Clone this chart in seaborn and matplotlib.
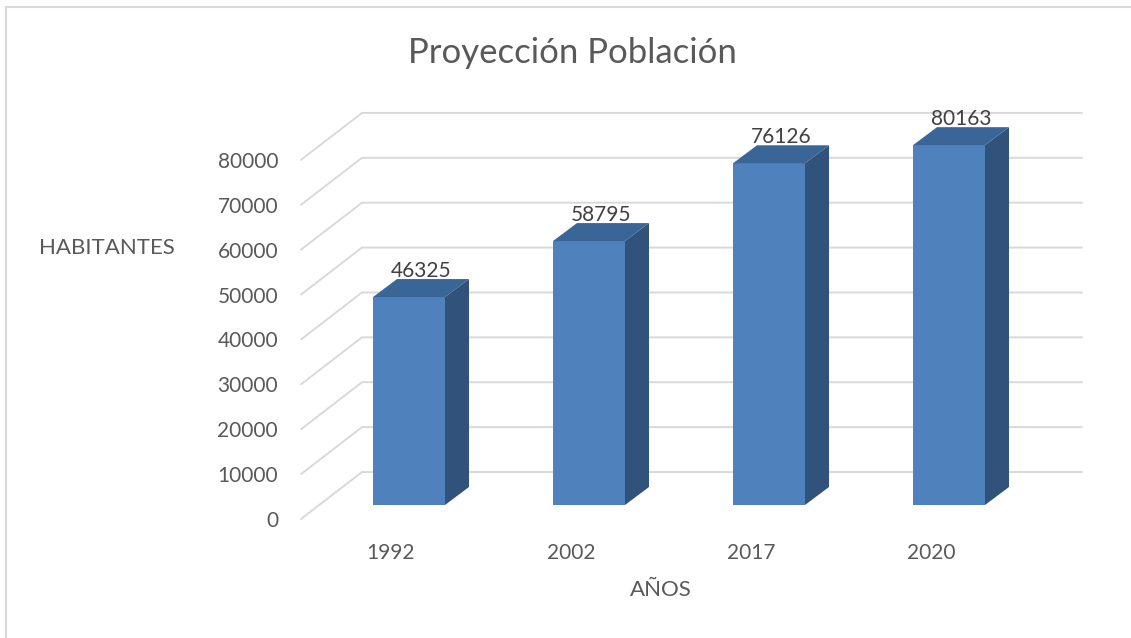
import numpy as np
import pandas as pd
import seaborn as sns
import matplotlib.pyplot as plt
from matplotlib.patches import Polygon
from matplotlib.lines import Line2D

anios = ['1992', '2002', '2017', '2020']
habitantes = [46325, 58795, 76126, 80163]
ticks_y = np.arange(0, 90000, 10000)

sns.set_theme(style='white')
plt.rcParams['font.family'] = ['Lato', 'DejaVu Sans']

W, H = 1131, 638
fig = plt.figure(figsize=(W / 100, H / 100), dpi=100)
ax = fig.add_axes([301 / W, 119 / H, 720 / W, 404 / H])

# pixel -> data units
px_x = 1 / 180
px_y = 10000 / 44.9

gris = '#d9d9d9'
texto = '#595959'

# muro del fondo (3D falso)
prof_x, prof_y = 61 * px_x, 47 * px_y
for v in ticks_y:
    ax.plot([-0.5, -0.5 + prof_x, 3.5 + prof_x], [v, v + prof_y, v + prof_y],
            color=gris, lw=1.4, clip_on=False, zorder=0.5)

df = pd.DataFrame({'anio': anios, 'hab': habitantes})
sns.barplot(data=df, x='anio', y='hab', color='#4f81bd', saturation=1,
            width=0.4, ax=ax, zorder=2)

off_x, off_y = 18 * px_x, 14 * px_y   # cara frontal de la barra
dx, dy = 24 * px_x, 18 * px_y         # profundidad de la barra
for p, val in zip(ax.patches, habitantes):
    p.set_x(p.get_x() + off_x)
    p.set_y(off_y)
    p.set_linewidth(0)
    x0, x1 = p.get_x(), p.get_x() + p.get_width()
    y0, y1 = off_y, off_y + val
    ax.add_patch(Polygon([[x1, y0], [x1 + dx, y0 + dy], [x1 + dx, y1 + dy], [x1, y1]],
                         closed=True, fc='#30527b', ec='none', zorder=2))
    ax.add_patch(Polygon([[x0, y1], [x0 + dx, y1 + dy], [x1 + dx, y1 + dy], [x1, y1]],
                         closed=True, fc='#3a6597', ec='none', zorder=2))
    ax.text((x0 + x1) / 2 + dx / 2, y1 + dy + 2 * px_y, str(val),
            ha='center', va='baseline', fontsize=15, color='#404040', zorder=3)

ax.set_xlim(-0.5, 3.5)
ax.set_ylim(0, 90000)
ax.set_yticks(ticks_y)
ax.tick_params(axis='y', length=0, pad=16.5, labelsize=15, labelcolor=texto)
ax.tick_params(axis='x', length=0, pad=17, labelsize=15, labelcolor=texto)
sns.despine(ax=ax, left=True, bottom=True)

ax.set_ylabel('HABITANTES', rotation=0, fontsize=16, color=texto, ha='center', va='center')
ax.yaxis.set_label_coords(-0.27, 0.671)
ax.set_xlabel('AÑOS', fontsize=16, color=texto, va='center')
ax.xaxis.set_label_coords(0.5, -0.176)

fig.text(572.5 / W, 1 - 63 / H, 'Proyección Población', ha='center', va='baseline',
         fontsize=25, color=texto)

# borde del gráfico
fig.add_artist(Line2D([6 / W, 1], [1 - 7 / H, 1 - 7 / H], color=gris, lw=1.5, transform=fig.transFigure))
fig.add_artist(Line2D([6 / W, 6 / W], [0, 1 - 7 / H], color=gris, lw=1.5, transform=fig.transFigure))

fig.savefig('out.png', dpi=100)
